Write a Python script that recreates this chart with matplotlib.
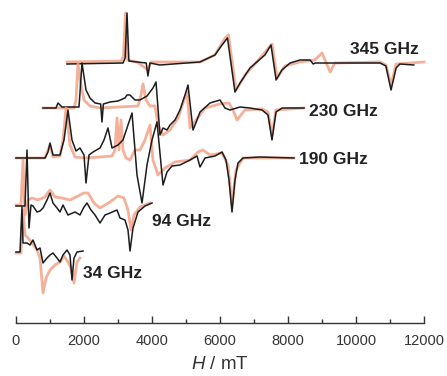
import matplotlib
matplotlib.use("Agg")
import matplotlib.pyplot as plt
from matplotlib.ticker import MultipleLocator

plt.rcParams['font.family'] = ['Liberation Sans', 'DejaVu Sans']
plt.rcParams['mathtext.fontset'] = 'custom'
plt.rcParams['mathtext.it'] = 'Liberation Sans:italic'
plt.rcParams['mathtext.rm'] = 'Liberation Sans'

# ---------------------------------------------------------------------------
# Data: field (mT) and signal (arb. units, relative to each baseline)
# ---------------------------------------------------------------------------

# 345 GHz
h345_exp = [1500, 3150, 3210, 3265, 3320, 3560, 3830, 3880, 3940, 4230, 5410, 5850, 6060, 6220, 6440, 6590,
            6880, 7320, 7500, 7650, 7820, 8060, 8350, 8650, 8740, 8800, 10710, 10880, 11030, 11180, 11290, 11700]
s345_exp = [0, 1, 6, 51, 3, 2, 1, -12, 1, -1, 2, 9, 19, 26, -28, -19,
            -4, 9, 19, -16, -6, 1, 4, 4, 0, 1, 1, -2, -26, -4, 0, -1]
h345_sim = [1500, 3100, 3160, 3220, 3280, 3560, 3880, 3970, 5410, 5850, 6150, 6250, 6470, 6740, 7180, 7530,
            7680, 7910, 8350, 8790, 9000, 9240, 9380, 10710, 10880, 11030, 11180, 12000]
s345_sim = [2, 3, 8, 51, 4, 2, -6, 2, 2, 9, 26, 29, -26, -11, 6, 20,
            -14, -2, 2, 4, 11, -8, 1, 2, -1, -21, 0, 2]

# 230 GHz
h230_exp = [794, 1176, 1235, 1353, 1853, 1941, 2059, 2176, 2324, 2490, 2529, 2570, 2765, 3000, 3206, 3265,
            3353, 3500, 3647, 3853, 4029, 4118, 4235, 4324, 4441, 4529, 4676, 4824, 4971, 5059, 5206, 5324,
            5412, 5706, 6000, 6147, 6294, 6588, 6882, 7235, 7412, 7529, 7647, 7824, 8471]
s230_exp = [0, 0, 5, 1, 1, 45, 18, 10, 5, 4, -14, 4, 6, 7, 10, 13,
            13, 8, 8, 12, 20, 26, -27, -20, -22, -17, -12, -2, 13, 23, -22, -12,
            -4, 5, 8, 0, -2, 1, 0, -2, -7, -32, -4, 0, 0]
h230_sim = [794, 1706, 1765, 1824, 1882, 2000, 2176, 2471, 3588, 3676, 3735, 3824, 3941, 4088, 4176, 4324,
            4529, 4765, 4941, 5029, 5118, 5294, 5559, 6000, 6265, 6382, 6500, 6735, 7235, 7412, 7529, 7647, 8471]
s230_sim = [0, 0, 8, 45, 28, 8, 2, 0, 2, 13, 24, 8, 2, 2, -17, -27,
            -22, -10, 8, 16, -20, -12, 0, 4, 5, -2, -12, -2, -1, -4, -27, -2, 0]

# 190 GHz
h190_exp = [0, 853, 941, 1000, 1088, 1294, 1412, 1529, 1647, 1765, 1882, 2000, 2059, 2147, 2265, 2471,
            2588, 2706, 2824, 3000, 3147, 3294, 3412, 3559, 3706, 3853, 4000, 4147, 4324, 4441, 4588, 4824,
            5118, 5324, 5412, 5559, 5853, 6059, 6176, 6265, 6353, 6441, 6529, 6676, 7176, 8176]
s190_exp = [0, 0, 6, 15, 3, 3, 18, 48, 18, 7, 10, 3, -25, 3, 6, 10,
            18, 30, 10, 13, 18, 33, 45, -17, -45, -7, 18, 36, -27, -14, -8, -7,
            -2, 2, -9, 0, 2, 6, -2, -22, -54, -22, -5, 0, 1, 0]
h190_sim = [0, 853, 941, 1000, 1088, 1294, 1382, 1471, 1588, 1735, 2029, 2471, 2824, 2912, 2971, 3029,
            3088, 3147, 3235, 3353, 3500, 3647, 3794, 3941, 4029, 4176, 4382, 4676, 5118, 5353, 5500, 5706,
            6059, 6235, 6353, 6471, 6676, 8176]
s190_sim = [0, 0, 8, 13, 1, 2, 18, 50, 13, 1, 0, 1, 2, 8, 40, 8,
            38, 8, 0, -2, 8, 8, 18, 33, -2, -17, -10, -4, -2, 6, 8, 3,
            5, -7, -47, -12, 0, 0]

# 94 GHz
h94_exp = [0, 265, 324, 382, 441, 500, 618, 706, 794, 912, 1000, 1088, 1206, 1294, 1382, 1529,
           1735, 1882, 2000, 2088, 2206, 2324, 2471, 2618, 2765, 2971, 3059, 3206, 3294, 3353, 3441, 3588,
           3794, 4000]
s94_exp = [0, 0, 56, -22, 1, 0, -6, -5, -2, 6, 13, 3, -2, -6, 1, -9,
           -6, -9, -1, 3, -4, -9, -17, -9, -7, -4, -12, -14, -24, -45, -22, -6,
           0, 3]
h94_sim = [0, 147, 206, 265, 353, 471, 647, 853, 1000, 1147, 1353, 1588, 1824, 2000, 2118, 2294,
           2471, 2765, 3000, 3176, 3294, 3382, 3471, 3647, 3941]
s94_sim = [1, 1, 46, -9, 6, 8, 6, 9, 16, 9, 8, 6, 10, 13, 13, 3,
           -2, 4, 10, 8, -4, -24, -9, -1, 3]

# 34 GHz
h34_exp = [0, 118, 176, 206, 324, 412, 500, 618, 706, 794, 912, 1000, 1088, 1206, 1294, 1382,
           1500, 1588, 1647, 1706, 1794, 1971]
s34_exp = [-1, -1, 44, 8, 8, 6, 11, 1, 3, -12, -7, -4, -2, -7, -11, -4,
           1, -4, -29, -7, -1, 0]
h34_sim = [0, 147, 206, 265, 353, 471, 618, 706, 794, 882, 1000, 1147, 1294, 1412, 1529, 1618,
           1706, 1794, 1882]
s34_sim = [-2, -2, 41, 16, 13, 8, 1, -7, -42, -27, -19, -14, -11, -5, -11, -17,
           -32, -11, -7]

labels = ['345 GHz', '230 GHz', '190 GHz', '94 GHz', '34 GHz']
spectra = [
    (h345_exp, s345_exp, h345_sim, s345_sim),
    (h230_exp, s230_exp, h230_sim, s230_sim),
    (h190_exp, s190_exp, h190_sim, s190_sim),
    (h94_exp, s94_exp, h94_sim, s94_sim),
    (h34_exp, s34_exp, h34_sim, s34_sim),
]
offsets = [259, 215, 165, 117, 72]
label_x = [9830, 8620, 8330, 3990, 1960]
label_dy = [14, -4, -1, -16, -23]

# ---------------------------------------------------------------------------
# Plot
# ---------------------------------------------------------------------------
fig = plt.figure(figsize=(4.47, 3.76), dpi=100)
ax = fig.add_axes([16 / 447, 53 / 376, 408 / 447, 323 / 376])

sim_color = '#f3a287'
exp_color = '#1c1c1c'

for (hx, sx, hs, ss), off, lab, lx, dy in zip(spectra, offsets, labels, label_x, label_dy):
    ax.plot(hs, [v + off for v in ss], color=sim_color, lw=2.0, alpha=0.85,
            solid_joinstyle='round', clip_on=False)
    ax.plot(hx, [v + off for v in sx], color=exp_color, lw=1.1,
            solid_joinstyle='round', clip_on=False)
    ax.text(lx, off + dy, lab, ha='left', va='center',
            fontsize=12.5, fontweight='bold', color='#222222')

ax.set_xlim(0, 12000)
ax.set_ylim(0, 323)
for side in ['left', 'top', 'right']:
    ax.spines[side].set_visible(False)
ax.spines['bottom'].set_color('#333333')
ax.spines['bottom'].set_linewidth(1.0)
ax.set_yticks([])
ax.xaxis.set_major_locator(MultipleLocator(2000))
ax.xaxis.set_minor_locator(MultipleLocator(1000))
ax.tick_params(axis='x', which='major', direction='in', length=5, width=1.0,
               color='#333333', labelsize=10.5, labelcolor='#333333', pad=8)
ax.tick_params(axis='x', which='minor', direction='in', length=3, width=1.0,
               color='#333333')
ax.set_xlabel('$H$ / mT', fontsize=13.5, color='#333333', labelpad=6)

fig.savefig('out.png', dpi=100)
